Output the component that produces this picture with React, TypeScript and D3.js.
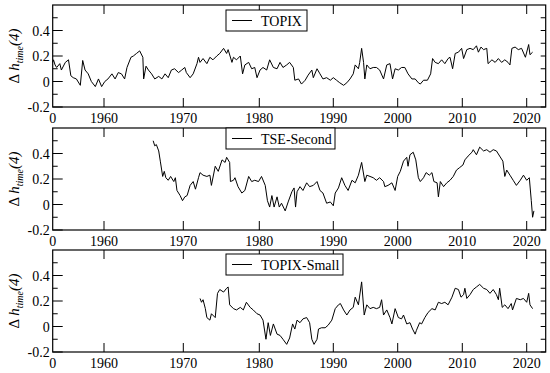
import React from 'react'
import * as d3 from 'd3'

const width = 550
const height = 373

// tick years; the x axis runs on a trading-day index, so decades are not equally wide
const yearTicks = [1960, 1970, 1980, 1990, 2000, 2010, 2020]
const xStart = 1953.5
const xEnd = 2022.9
const yMajor = [-0.2, 0, 0.2, 0.4]
const yAll = [-0.2, -0.1, 0, 0.1, 0.2, 0.3, 0.4, 0.5]

// [year, Δh]
const topix: [number, number][] = [
  [1953.5, 0.15], [1953.6, 0.17], [1953.8, 0.13], [1954.0, 0.11], [1954.4, 0.14], [1954.6, 0.09],
  [1955.1, 0.15], [1955.5, 0.17], [1955.8, 0.045], [1956.1, 0.03], [1956.5, 0.02], [1957.0, -0.03],
  [1957.3, 0.165], [1957.6, 0.09], [1958.0, 0.06], [1958.4, 0.0], [1958.9, -0.04], [1959.3, 0.02],
  [1959.7, -0.04], [1960.1, 0.0], [1960.5, 0.02], [1961.0, 0.06], [1961.4, 0.02], [1961.8, 0.07],
  [1962.2, 0.06], [1962.6, 0.02], [1962.9, 0.11], [1963.4, 0.19], [1963.7, 0.2], [1964.1, 0.22],
  [1964.5, 0.24], [1964.9, 0.19], [1965.0, 0.02], [1965.3, 0.12], [1965.6, 0.09], [1966.0, 0.06],
  [1966.4, 0.02], [1966.9, 0.04], [1967.3, 0.02], [1967.7, 0.06], [1968.1, 0.03], [1968.5, 0.09],
  [1968.9, 0.1], [1969.4, 0.07], [1969.8, 0.09], [1970.2, 0.11], [1970.4, 0.07], [1970.9, 0.03],
  [1971.3, 0.06], [1971.8, 0.14], [1972.0, 0.19], [1972.2, 0.15], [1972.6, 0.18], [1973.1, 0.14],
  [1973.5, 0.19], [1973.9, 0.17], [1974.4, 0.2], [1974.8, 0.22], [1975.3, 0.26], [1975.7, 0.22],
  [1975.9, 0.25], [1976.4, 0.15], [1976.6, 0.19], [1977.0, 0.17], [1977.5, 0.2], [1977.8, 0.06],
  [1978.1, 0.13], [1978.6, 0.15], [1979.0, 0.1], [1979.4, 0.11], [1979.7, 0.03], [1980.1, 0.09],
  [1980.5, 0.11], [1981.0, 0.09], [1981.4, 0.17], [1981.9, 0.11], [1982.4, 0.1], [1982.8, 0.15],
  [1983.2, 0.11], [1983.7, 0.13], [1984.1, 0.15], [1984.6, 0.11], [1984.8, 0.01], [1985.3, 0.02],
  [1985.7, -0.02], [1986.2, 0.01], [1986.6, 0.05], [1987.1, 0.09], [1987.3, 0.03], [1987.8, 0.1],
  [1988.2, 0.06], [1988.6, 0.02], [1989.1, 0.03], [1989.6, 0.01], [1990.0, 0.03], [1990.5, 0.01],
  [1991.0, -0.01], [1991.6, -0.03], [1992.1, -0.01], [1992.6, 0.02], [1993.1, 0.06], [1993.4, 0.13],
  [1993.9, 0.1], [1994.1, 0.15], [1994.4, 0.26], [1994.7, 0.15], [1994.9, 0.02], [1995.2, 0.13],
  [1995.7, 0.1], [1996.2, 0.11], [1996.7, 0.11], [1997.2, 0.09], [1997.8, 0.02], [1998.3, 0.13],
  [1998.8, 0.14], [1999.2, 0.02], [1999.6, 0.1], [2000.1, 0.09], [2000.6, 0.11], [2001.1, 0.11],
  [2001.6, 0.06], [2002.2, 0.02], [2002.7, 0.02], [2003.2, -0.01], [2003.5, -0.02], [2004.0, 0.01],
  [2004.6, 0.01], [2005.1, 0.06], [2005.4, 0.18], [2005.8, 0.15], [2006.3, 0.14], [2006.8, 0.17],
  [2007.3, 0.14], [2007.8, 0.18], [2008.1, 0.19], [2008.5, 0.1], [2008.9, 0.22], [2009.4, 0.23],
  [2009.9, 0.26], [2010.2, 0.18], [2010.7, 0.25], [2011.2, 0.26], [2011.7, 0.25], [2012.2, 0.28],
  [2012.5, 0.23], [2012.9, 0.27], [2013.3, 0.25], [2013.8, 0.26], [2014.0, 0.14], [2014.6, 0.17],
  [2015.1, 0.15], [2015.6, 0.18], [2016.1, 0.15], [2016.6, 0.17], [2017.1, 0.15], [2017.4, 0.13],
  [2017.7, 0.26], [2018.2, 0.27], [2018.7, 0.25], [2019.2, 0.26], [2019.8, 0.19], [2020.3, 0.29],
  [2020.5, 0.21], [2020.9, 0.23],
]

const tseSecond: [number, number][] = [
  [1966.2, 0.5], [1966.4, 0.46], [1966.6, 0.47], [1966.9, 0.42], [1967.1, 0.34], [1967.4, 0.22],
  [1967.6, 0.26], [1967.8, 0.21], [1968.1, 0.19], [1968.4, 0.22], [1968.8, 0.18], [1969.0, 0.21],
  [1969.2, 0.11], [1969.6, 0.07], [1969.9, 0.03], [1970.2, 0.06], [1970.5, 0.07], [1970.9, 0.15],
  [1971.3, 0.18], [1971.6, 0.12], [1972.0, 0.21], [1972.2, 0.25], [1972.6, 0.23], [1973.1, 0.22],
  [1973.5, 0.23], [1973.7, 0.15], [1974.2, 0.3], [1974.6, 0.26], [1975.1, 0.35], [1975.5, 0.33],
  [1975.7, 0.37], [1976.1, 0.33], [1976.2, 0.18], [1976.6, 0.19], [1976.8, 0.21], [1977.2, 0.14],
  [1977.7, 0.09], [1978.1, 0.11], [1978.6, 0.22], [1979.0, 0.18], [1979.4, 0.19], [1979.9, 0.18],
  [1980.3, 0.22], [1980.8, 0.15], [1981.1, 0.03], [1981.4, -0.02], [1981.7, 0.07], [1982.0, -0.02],
  [1982.4, 0.06], [1982.7, -0.02], [1983.0, 0.01], [1983.5, -0.05], [1983.9, 0.02], [1984.4, 0.1],
  [1984.7, 0.13], [1984.9, -0.02], [1985.1, 0.1], [1985.5, 0.14], [1985.9, 0.11], [1986.4, 0.17],
  [1986.8, 0.14], [1987.3, 0.15], [1987.8, 0.18], [1988.2, 0.11], [1988.6, 0.09], [1989.1, 0.01],
  [1989.6, 0.02], [1990.0, -0.01], [1990.3, 0.09], [1990.8, 0.13], [1991.3, 0.21], [1991.8, 0.15],
  [1992.3, 0.11], [1992.9, 0.19], [1993.4, 0.17], [1993.9, 0.23], [1994.4, 0.33], [1994.9, 0.18],
  [1995.2, 0.23], [1995.7, 0.22], [1996.2, 0.21], [1996.7, 0.19], [1997.2, 0.21], [1997.8, 0.18],
  [1998.0, 0.14], [1998.5, 0.15], [1999.1, 0.17], [1999.6, 0.11], [2000.0, 0.22], [2000.4, 0.26],
  [2000.9, 0.34], [2001.4, 0.37], [2001.6, 0.3], [2001.9, 0.39], [2002.4, 0.41], [2002.8, 0.35],
  [2003.2, 0.21], [2003.5, 0.18], [2004.0, 0.21], [2004.4, 0.25], [2004.9, 0.23], [2005.3, 0.25],
  [2005.6, 0.18], [2006.1, 0.17], [2006.3, 0.06], [2006.6, 0.18], [2007.1, 0.14], [2007.6, 0.17],
  [2008.1, 0.19], [2008.6, 0.22], [2009.1, 0.27], [2009.6, 0.29], [2010.1, 0.31], [2010.4, 0.35],
  [2010.9, 0.38], [2011.5, 0.41], [2011.7, 0.43], [2012.2, 0.39], [2012.7, 0.45], [2013.3, 0.42],
  [2013.8, 0.43], [2014.3, 0.41], [2014.8, 0.43], [2015.3, 0.42], [2015.8, 0.38], [2016.3, 0.34],
  [2016.6, 0.22], [2016.9, 0.27], [2017.4, 0.23], [2017.9, 0.19], [2018.4, 0.15], [2019.0, 0.19],
  [2019.5, 0.23], [2020.0, 0.19], [2020.4, 0.21], [2020.7, 0.03], [2020.9, -0.1], [2021.1, -0.05],
]

const topixSmall: [number, number][] = [
  [1972.2, 0.22], [1972.4, 0.19], [1972.6, 0.21], [1972.9, 0.14], [1973.1, 0.07], [1973.5, 0.05],
  [1973.7, 0.1], [1974.2, 0.07], [1974.5, 0.26], [1974.8, 0.29], [1975.3, 0.27], [1975.7, 0.3],
  [1975.9, 0.31], [1976.1, 0.17], [1976.6, 0.14], [1977.0, 0.13], [1977.5, 0.15], [1977.9, 0.13],
  [1978.3, 0.19], [1978.8, 0.15], [1979.2, 0.13], [1979.7, 0.1], [1980.1, 0.09], [1980.5, 0.05],
  [1980.9, -0.1], [1981.2, 0.03], [1981.5, -0.07], [1981.9, 0.02], [1982.4, -0.06], [1982.8, -0.07],
  [1983.2, -0.1], [1983.7, -0.14], [1984.1, -0.09], [1984.5, 0.02], [1984.8, -0.02], [1985.1, 0.05],
  [1985.5, 0.03], [1985.9, 0.06], [1986.4, 0.07], [1986.8, 0.03], [1987.1, -0.1], [1987.4, -0.14],
  [1987.8, -0.1], [1988.0, -0.02], [1988.4, -0.01], [1988.9, -0.01], [1989.3, 0.01], [1989.8, 0.05],
  [1990.3, 0.14], [1990.8, 0.17], [1991.1, 0.18], [1991.6, 0.13], [1992.1, 0.09], [1992.6, 0.13],
  [1993.1, 0.15], [1993.4, 0.23], [1993.9, 0.17], [1994.4, 0.35], [1994.8, 0.09], [1995.2, 0.17],
  [1995.7, 0.14], [1996.2, 0.15], [1996.7, 0.14], [1997.2, 0.15], [1997.5, 0.21], [1997.8, 0.09],
  [1998.3, 0.13], [1998.8, 0.07], [1999.1, 0.02], [1999.6, 0.14], [2000.1, 0.07], [2000.6, 0.06],
  [2000.9, 0.09], [2001.4, 0.02], [2001.9, 0.03], [2002.3, -0.02], [2002.7, -0.06], [2002.9, -0.03],
  [2003.4, 0.03], [2003.7, 0.02], [2004.2, 0.07], [2004.7, 0.11], [2005.3, 0.14], [2005.8, 0.13],
  [2006.3, 0.19], [2006.8, 0.18], [2007.3, 0.19], [2007.8, 0.17], [2008.4, 0.23], [2008.9, 0.3],
  [2009.4, 0.29], [2009.8, 0.23], [2010.2, 0.25], [2010.4, 0.3], [2010.7, 0.22], [2011.2, 0.25],
  [2011.7, 0.29], [2012.2, 0.31], [2012.7, 0.33], [2013.3, 0.3], [2013.8, 0.29], [2014.3, 0.26],
  [2014.8, 0.29], [2015.3, 0.25], [2015.6, 0.21], [2015.8, 0.3], [2016.2, 0.15], [2016.6, 0.17],
  [2017.1, 0.14], [2017.6, 0.18], [2017.8, 0.13], [2018.4, 0.22], [2019.0, 0.21], [2019.5, 0.22],
  [2020.0, 0.19], [2020.3, 0.26], [2020.5, 0.17], [2020.9, 0.14],
]

const panels = [
  { name: 'TOPIX', data: topix, top: 5, legendDy: 5, legendW: 81 },
  { name: 'TSE-Second', data: tseSecond, top: 128, legendDy: 0, legendW: 109 },
  { name: 'TOPIX-Small', data: topixSmall, top: 250, legendDy: 4, legendW: 117 },
]

const left = 52.7
const right = 545.7
const panelH = 102
const font = "'Liberation Serif', 'Times New Roman', Times, 'DejaVu Serif', serif"
const txt = { fontFamily: font }

// polylinear: trading days per year shrank over time
const xScale = d3
  .scaleLinear()
  .domain([xStart, ...yearTicks, xEnd])
  .range([left, 104, 183.3, 259.3, 333.3, 397.7, 462.3, 526.7, right])

const xLabels: [number, string][] = [[xStart, '0'], ...yearTicks.map(y => [y, String(y)] as [number, string])]

function Panel({ p }: { p: typeof panels[number] }) {
  const bottom = p.top + panelH
  const yScale = d3.scaleLinear().domain([-0.2, 0.6]).range([bottom, p.top])
  const line = d3
    .line<[number, number]>()
    .x(d => xScale(d[0]))
    .y(d => yScale(d[1]))
  const midY = (p.top + bottom) / 2

  return (
    <g>
      <path d={line(p.data) || ''} fill="none" stroke="#000" strokeWidth={1} />
      <rect x={left} y={p.top} width={right - left} height={panelH} fill="none" stroke="#000" strokeWidth={1.2} />
      {yearTicks.map(t => (
        <g key={t}>
          <line x1={xScale(t)} x2={xScale(t)} y1={bottom} y2={bottom - 9} stroke="#000" />
          <line x1={xScale(t)} x2={xScale(t)} y1={p.top} y2={p.top + 9} stroke="#000" />
        </g>
      ))}
      {xLabels.map(([t, s]) => (
        <text key={s} x={xScale(t)} y={bottom + 16} textAnchor="middle" fontSize={14} style={txt}>
          {s}
        </text>
      ))}
      {yAll.map(v => {
        const major = yMajor.some(m => Math.abs(m - v) < 1e-9)
        return (
          <g key={v}>
            <line x1={left} x2={left + (major ? 10 : 5)} y1={yScale(v)} y2={yScale(v)} stroke="#000" />
            <line x1={right} x2={right - 5} y1={yScale(v)} y2={yScale(v)} stroke="#000" />
          </g>
        )
      })}
      {yMajor.map(v => (
        <text key={v} x={left - 3} y={yScale(v) + 5} textAnchor="end" fontSize={14} style={txt}>
          {v === 0 ? '0' : d3.format('.1f')(v).replace('−', '-')}
        </text>
      ))}
      <text
        transform={`translate(19,${midY}) rotate(-90)`}
        textAnchor="middle"
        fontSize={15}
        style={txt}
      >
        {'Δ '}
        <tspan fontStyle="italic">h</tspan>
        <tspan fontStyle="italic" fontSize={10} dy={4}>time</tspan>
        <tspan fontStyle="italic" dy={-4}>(4)</tspan>
      </text>
      <g transform={`translate(226,${p.top + p.legendDy})`}>
        <rect width={p.legendW} height={21} fill="#fff" stroke="#000" strokeWidth={1} />
        <line x1={6} x2={26} y1={10.5} y2={10.5} stroke="#000" />
        <text x={35} y={15.5} fontSize={14} style={txt}>
          {p.name}
        </text>
      </g>
    </g>
  )
}

export default function App() {
  return (
    <svg
      width={width}
      height={height}
      style={{ position: 'absolute', left: 0, top: 0, background: '#fff' }}
    >
      {panels.map(p => (
        <Panel key={p.name} p={p} />
      ))}
    </svg>
  )
}
